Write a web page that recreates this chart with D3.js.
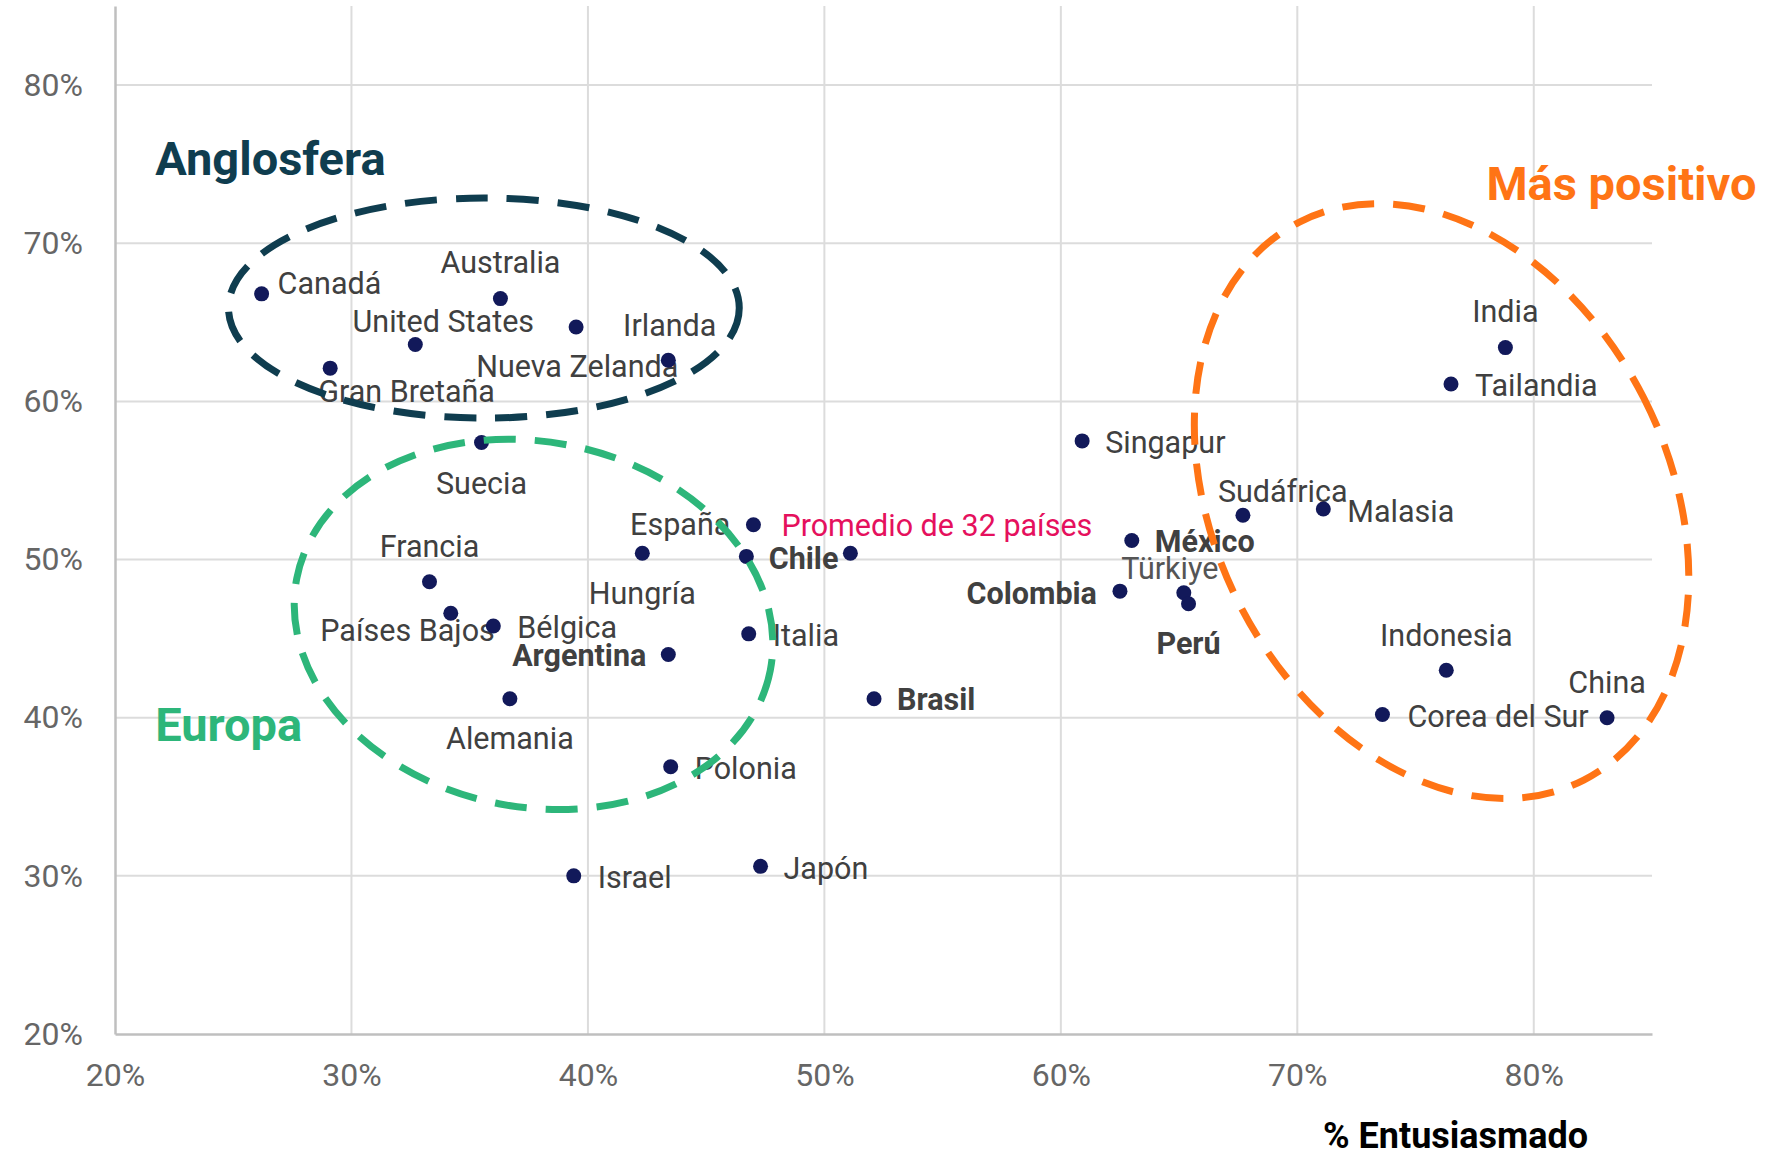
<!DOCTYPE html>
<html>
<head>
<meta charset="utf-8">
<script src="https://cdn.jsdelivr.net/npm/d3@7"></script>
<style>
  body { margin: 0; background: #fff; }
  svg { display: block; font-family: Roboto, "Noto Sans", sans-serif; }
</style>
</head>
<body>
<div id="chart"></div>
<script>
// data
const countries = ["Canadá", "Australia", "United States", "Irlanda", "Gran Bretaña", "Nueva Zelanda",
    "Suecia", "Francia", "Países Bajos", "Bélgica", "Hungría", "España", "Chile", "Italia",
    "Argentina", "Alemania", "Polonia", "Israel", "Japón", "Brasil", "Singapur", "México",
    "Colombia", "Türkiye", "Perú", "Sudáfrica", "Malasia", "India", "Tailandia", "Indonesia",
    "Corea del Sur", "China"];
const entusiasmado = [26.2, 36.3, 32.7, 39.5, 29.1, 43.4, 35.5, 33.3, 34.2, 36.0, 42.3, 46.7, 51.1,
    46.8, 43.4, 36.7, 43.5, 39.4, 47.3, 52.1, 60.9, 63.0, 62.5, 65.2, 65.4, 67.7, 71.1, 78.8, 76.5,
    76.3, 73.6, 83.1];
const valorY = [66.8, 66.5, 63.6, 64.7, 62.1, 62.6, 57.4, 48.6, 46.6, 45.8, 50.4, 50.2, 50.4, 45.3,
    44.0, 41.2, 36.9, 30.0, 30.6, 41.2, 57.5, 51.2, 48.0, 47.9, 47.2, 52.8, 53.2, 63.4, 61.1, 43.0,
    40.2, 40.0];
const latam = ["Argentina", "Brasil", "Chile", "Colombia", "México", "Perú"];
const promedio = {name: "Promedio de 32 países", x: 47.0, y: 52.2};

const xTicks = [20, 30, 40, 50, 60, 70, 80];
const yTicks = [20, 30, 40, 50, 60, 70, 80];

// groups drawn as dashed ellipses (centre and radii in % units)
const grupos = [
    {name: "Anglosfera", cx: 35.6, cy: 65.9, rx: 10.8, ry: 6.96, angle: 0, color: "#0f3d4f",
        tx: 21.7, ty: 75.35},
    {name: "Europa", cx: 37.7, cy: 45.9, rx: 10.2, ry: 11.55, angle: 11, color: "#2db67a",
        tx: 21.7, ty: 39.6},
    {name: "Más positivo", cx: 76.1, cy: 53.7, rx: 9.6, ry: 19.8, angle: -27, color: "#ff7415",
        tx: 78.0, ty: 73.8}
];

// label placement next to each dot [anchor, dx, dy]
const labelPos = {
    "Canadá": ["start", 16, -10], "Australia": ["middle", 0, -36], "United States": ["middle", 28, -23],
    "Irlanda": ["start", 47, -2], "Gran Bretaña": ["start", -12, 23], "Nueva Zelanda": ["end", 10, 6],
    "Suecia": ["middle", 0, 41], "Francia": ["middle", 0, -35], "Países Bajos": ["end", 44, 17],
    "Bélgica": ["start", 24, 2], "Hungría": ["middle", 0, 40], "España": ["end", -16, -32],
    "Chile": ["end", -12, 5], "Italia": ["start", 24, 2], "Argentina": ["end", -22, 1],
    "Alemania": ["middle", 0, 40], "Polonia": ["start", 24, 2], "Israel": ["start", 24, 2],
    "Japón": ["start", 23, 2], "Brasil": ["start", 23, 1], "Singapur": ["start", 23, 2],
    "México": ["start", 23, 1], "Colombia": ["end", -23, 2], "Türkiye": ["middle", -14, -24],
    "Perú": ["middle", 0, 40], "Sudáfrica": ["start", -25, -24], "Malasia": ["start", 24, 3],
    "India": ["middle", 0, -36], "Tailandia": ["start", 24, 2], "Indonesia": ["middle", 0, -35],
    "Corea del Sur": ["start", 25, 2], "China": ["middle", 0, -35]
};

const width = 1780, height = 1161;
const margin = {top: 6, right: 128, bottom: 127, left: 115};
const labelSize = 30.5;

const svg = d3.select("#chart").append("svg")
    .attr("width", width)
    .attr("height", height);

const x = d3.scaleLinear().domain([20, 85]).range([margin.left, width - margin.right]);
const y = d3.scaleLinear().domain([20, 85]).range([height - margin.bottom, margin.top]);

const points = countries.map((c, i) => ({name: c, x: entusiasmado[i], y: valorY[i]}));

// grid
svg.append("g")
    .selectAll("line")
    .data(xTicks.slice(1))
    .join("line")
    .attr("x1", d => x(d)).attr("x2", d => x(d))
    .attr("y1", y(85)).attr("y2", y(20))
    .attr("stroke", "#dcdcdc").attr("stroke-width", 2);

svg.append("g")
    .selectAll("line")
    .data(yTicks.slice(1))
    .join("line")
    .attr("x1", x(20)).attr("x2", x(85))
    .attr("y1", d => y(d)).attr("y2", d => y(d))
    .attr("stroke", "#dcdcdc").attr("stroke-width", 2);

// axes
const xAxis = svg.append("g")
    .attr("transform", `translate(0,${y(20)})`)
    .call(d3.axisBottom(x).tickValues(xTicks).tickFormat(d => d + "%").tickSize(0).tickPadding(29));
const yAxis = svg.append("g")
    .attr("transform", `translate(${x(20)},0)`)
    .call(d3.axisLeft(y).tickValues(yTicks).tickFormat(d => d + "%").tickSize(0).tickPadding(32));

[xAxis, yAxis].forEach(a => {
    a.select(".domain").attr("stroke", "#bfbfbf").attr("stroke-width", 2.5);
    a.selectAll("text")
        .attr("font-family", "Roboto, sans-serif")
        .attr("font-size", 32)
        .attr("fill", "#666");
});

// labels
svg.append("g")
    .selectAll("text")
    .data(points)
    .join("text")
    .attr("x", d => x(d.x) + labelPos[d.name][1])
    .attr("y", d => y(d.y) + labelPos[d.name][2])
    .attr("text-anchor", d => labelPos[d.name][0])
    .attr("dominant-baseline", "central")
    .attr("font-size", labelSize)
    .attr("font-weight", d => latam.includes(d.name) ? 700 : 400)
    .attr("fill", d => d.name === "Türkiye" ? "#555" : "#404040")
    .text(d => d.name);

svg.append("text")
    .attr("x", x(promedio.x) + 28)
    .attr("y", y(promedio.y) + 1)
    .attr("dominant-baseline", "central")
    .attr("font-size", labelSize)
    .attr("fill", "#e5105d")
    .text(promedio.name);

// dots
svg.append("g")
    .selectAll("circle")
    .data(points.concat([promedio]))
    .join("circle")
    .attr("cx", d => x(d.x))
    .attr("cy", d => y(d.y))
    .attr("r", 7.5)
    .attr("fill", "#12195a");

// dashed group ellipses
svg.append("g")
    .selectAll("ellipse")
    .data(grupos)
    .join("ellipse")
    .attr("transform", d => `translate(${x(d.cx)},${y(d.cy)}) rotate(${d.angle})`)
    .attr("rx", d => x(20 + d.rx) - x(20))
    .attr("ry", d => y(20) - y(20 + d.ry))
    .attr("fill", "none")
    .attr("stroke", d => d.color)
    .attr("stroke-width", 7)
    .attr("stroke-dasharray", "32 19");

svg.append("g")
    .selectAll("text")
    .data(grupos)
    .join("text")
    .attr("x", d => x(d.tx))
    .attr("y", d => y(d.ty))
    .attr("dominant-baseline", "central")
    .attr("font-size", 47)
    .attr("font-weight", 700)
    .attr("fill", d => d.color)
    .text(d => d.name);

// axis title
svg.append("text")
    .attr("x", x(82.3))
    .attr("y", 1136)
    .attr("text-anchor", "end")
    .attr("dominant-baseline", "central")
    .attr("font-size", 36)
    .attr("font-weight", 700)
    .attr("fill", "#000")
    .text("% Entusiasmado");
</script>
</body>
</html>
